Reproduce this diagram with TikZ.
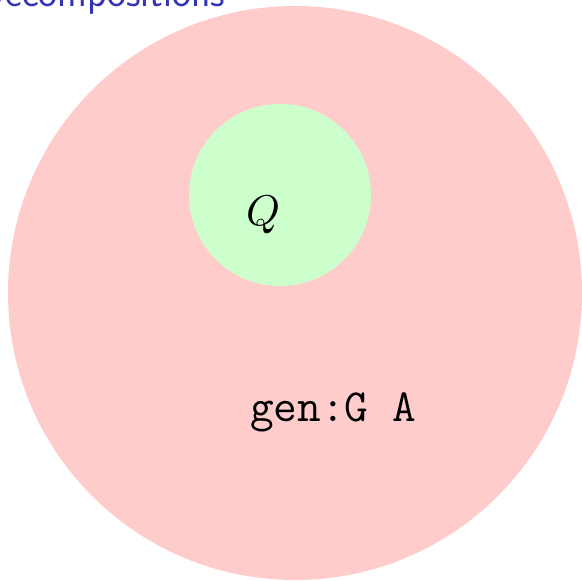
\documentclass[tikz,border=0pt]{standalone}
\usepackage{fix-cm}
\definecolor{titleblue}{RGB}{51,51,179}
\tikzset{
  outer/.style={fill=red!20},
  inner/.style={fill=green!20},
  lbl/.style={inner sep=0pt},
}
\begin{document}
\begin{tikzpicture}[x=1pt,y=1pt]
\useasboundingbox (0,0) rectangle (582,581);
\fill[outer] (295,288) circle (287);
\fill[inner] (280,386) circle (91);
\node[lbl,scale=4.3] (q) at (263,366) {$Q$};
\node[lbl] (g) at (333,169) {\fontsize{46}{52}\selectfont\ttfamily gen:G A};
\node[lbl,anchor=base west,text=titleblue] (t) at (-22,574) {\fontsize{40}{48}\selectfont\sffamily Decompositions};
\end{tikzpicture}
\end{document}
